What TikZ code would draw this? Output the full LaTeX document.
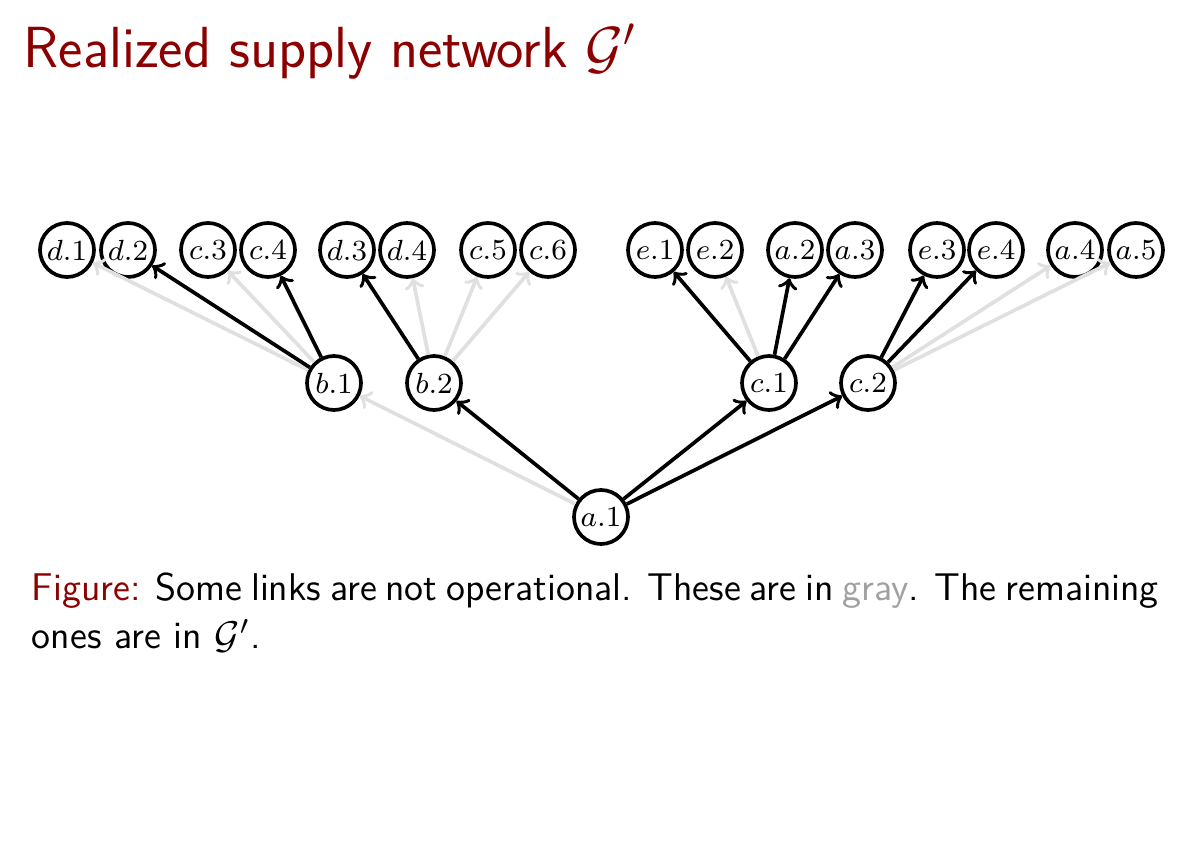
\RequirePackage{fix-cm}
\documentclass[tikz,border=0pt]{standalone}
\usepackage{amsmath}
\definecolor{titlered}{RGB}{139,0,0}
\definecolor{linkgray}{RGB}{224,224,224}
\definecolor{wordgray}{RGB}{160,160,160}

\begin{document}
\begin{tikzpicture}[x=0.1mm, y=-0.1mm, line width=1.05pt,
  firm/.style={circle, draw, minimum size=5.4mm, inner sep=0pt,
    font=\fontsize{8.3}{9}\selectfont},
  live/.style={->, black},
  down/.style={->, linkgray}]
  \useasboundingbox (0,0) rectangle (1200,860);

  \node[anchor=base west, inner sep=0pt, text=titlered,
    font=\sffamily\fontsize{16.5}{20}\selectfont] (title) at (22,68)
    {Realized supply network $\mathcal{G}'$};

  % top tier
  \node[firm] (d1) at (67,250) {$d.1$};
  \node[firm] (d2) at (128,250) {$d.2$};
  \node[firm] (c3) at (208,250) {$c.3$};
  \node[firm] (c4) at (268,250) {$c.4$};
  \node[firm] (d3) at (347,250) {$d.3$};
  \node[firm] (d4) at (407,250) {$d.4$};
  \node[firm] (c5) at (488,250) {$c.5$};
  \node[firm] (c6) at (548,250) {$c.6$};
  \node[firm] (e1) at (655,250) {$e.1$};
  \node[firm] (e2) at (715,250) {$e.2$};
  \node[firm] (a2) at (795,250) {$a.2$};
  \node[firm] (a3) at (855,250) {$a.3$};
  \node[firm] (e3) at (937,250) {$e.3$};
  \node[firm] (e4) at (996,250) {$e.4$};
  \node[firm] (a4) at (1075,250) {$a.4$};
  \node[firm] (a5) at (1136,250) {$a.5$};

  % middle tier
  \node[firm] (b1) at (334,383) {$b.1$};
  \node[firm] (b2) at (434,383) {$b.2$};
  \node[firm] (c1) at (769,383) {$c.1$};
  \node[firm] (c2) at (868,383) {$c.2$};

  % root
  \node[firm] (a1) at (601,517) {$a.1$};

  % links that fail
  \draw[down] (a1) -- (b1);
  \draw[down] (b1) -- (d1);
  \draw[down] (b1) -- (c3);
  \draw[down] (b2) -- (d4);
  \draw[down] (b2) -- (c5);
  \draw[down] (b2) -- (c6);
  \draw[down] (c1) -- (e2);
  \draw[down] (c2) -- (a4);
  \draw[down] (c2) -- (a5);

  % links in G'
  \draw[live] (a1) -- (b2);
  \draw[live] (a1) -- (c1);
  \draw[live] (a1) -- (c2);
  \draw[live] (b1) -- (d2);
  \draw[live] (b1) -- (c4);
  \draw[live] (b2) -- (d3);
  \draw[live] (c1) -- (e1);
  \draw[live] (c1) -- (a2);
  \draw[live] (c1) -- (a3);
  \draw[live] (c2) -- (e3);
  \draw[live] (c2) -- (e4);

  \node[anchor=north west, inner sep=0pt, text width=112.7mm, align=justify,
    font=\sffamily\fontsize{11}{13.6}\selectfont] (caption) at (30,571)
    {\textcolor{titlered}{Figure:} Some links are not operational. These are
    in \textcolor{wordgray}{gray}. The remaining\linebreak ones are in $\mathcal{G}'$.};
\end{tikzpicture}
\end{document}
